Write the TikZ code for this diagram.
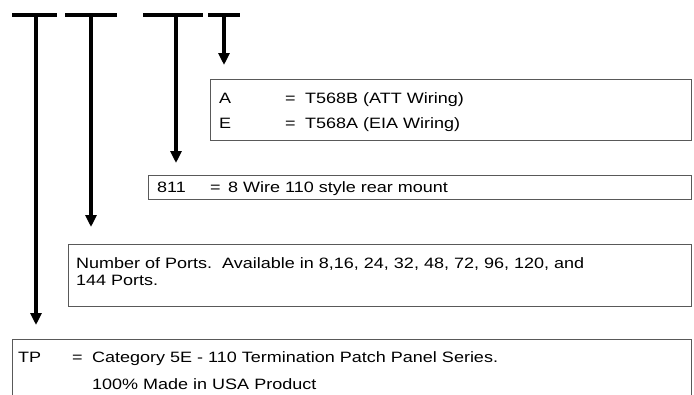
\documentclass[tikz,border=0pt]{standalone}
\usepackage{fontspec}
\setmainfont{Liberation Sans}[FakeStretch=1.2]
\usetikzlibrary{arrows.meta}
\begin{document}
\begin{tikzpicture}[x=1pt, y=-1pt,
  bar/.style = {line width = 4pt, line cap = butt},
  arr/.style = {line width = 4pt, -{Triangle[length = 12pt, width = 11pt]}},
  box/.style = {draw = black!65, line width = 1pt, anchor = north west, inner sep = 0pt},
  txt/.style = {anchor = base west, inner sep = 0pt, font = \fontsize{15}{18}\selectfont}]
\useasboundingbox (0,0) rectangle (694,394);
\foreach \l/\m/\r/\n in {12/36/57/1, 65/91/117/2, 143/176/203/3, 208/224/240/4} {
  \coordinate (s\n) at (\m,15);
  \draw [bar] (\l,15) -- (\r,15);
}
\node [box, minimum width = 481, minimum height = 61] (wiring) at (210,79) {};
\node [box, minimum width = 543, minimum height = 24] (mount) at (148,175) {};
\node [box, minimum width = 623, minimum height = 62] (ports) at (68,244) {};
\node [box, minimum width = 679, minimum height = 80] (tp) at (12,339) {};
\foreach \s/\b/\g in {s1/tp/14, s2/ports/17, s3/mount/12, s4/wiring/14}
  \draw [arr, shorten >= \g pt] (\s) -- (\s |- \b.north);
\node [txt] (codeA) at (219,103) {A};
\node [txt] (eqA) at (285,103) {=};
\node [txt] (descA) at (305,103) {T568B (ATT Wiring)};
\node [txt] (codeE) at (219,128) {E};
\node [txt] (eqE) at (285,128) {=};
\node [txt] (descE) at (305,128) {T568A (EIA Wiring)};
\node [txt] (code811) at (157,192) {811};
\node [txt] (eq811) at (210,192) {=};
\node [txt] (desc811) at (228,192) {8 Wire 110 style rear mount};
\node [txt] (portsA) at (76,268) {Number of Ports.\ \ Available in 8,16, 24, 32, 48, 72, 96, 120, and};
\node [txt] (portsB) at (76,285) {144 Ports.};
\node [txt] (codeTP) at (18,362) {TP};
\node [txt] (eqTP) at (72,362) {=};
\node [txt] (descTP) at (92,362) {Category 5E - 110 Termination Patch Panel Series.};
\node [txt] (usaTP) at (92,389) {100\% Made in USA Product};
\end{tikzpicture}
\end{document}
